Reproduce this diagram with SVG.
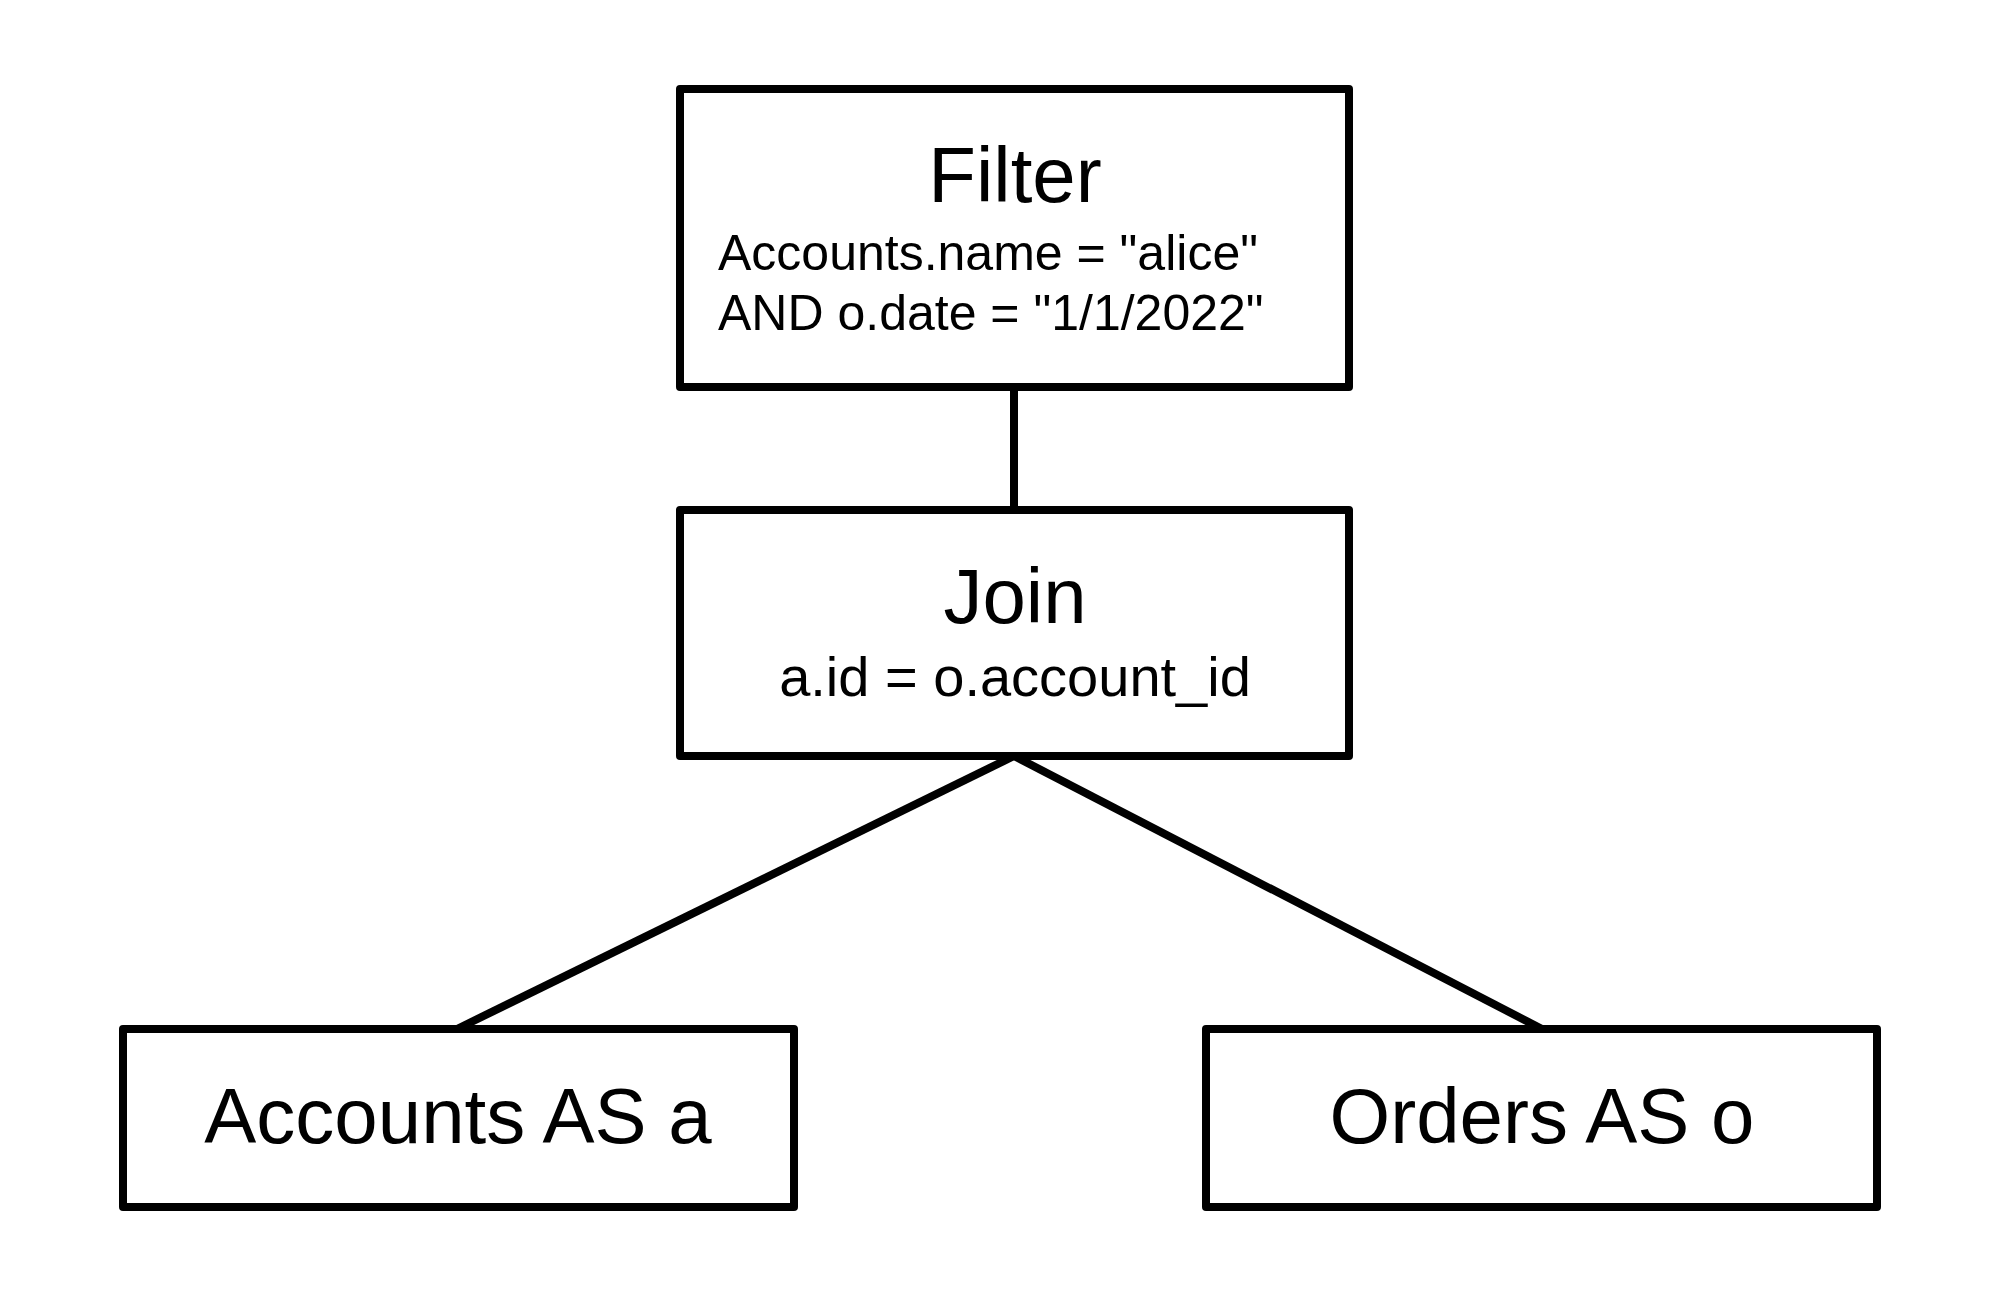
<svg xmlns="http://www.w3.org/2000/svg" width="2000" height="1295" viewBox="0 0 2000 1295">
<style>
.box{fill:#fff;stroke:#000;stroke-width:8;stroke-linejoin:round}
.edge{stroke:#000;stroke-width:8;fill:none}
text{font-family:"Liberation Sans",Arial,sans-serif;fill:#000}
.t{font-size:78px;text-anchor:middle}
.s{font-size:50px}
</style>
<rect width="2000" height="1295" fill="#fff"/>
<g id="connectors">
<line class="edge" x1="1014" y1="387" x2="1014" y2="510"/>
<line class="edge" x1="1014" y1="756" x2="457" y2="1029"/>
<line class="edge" x1="1014" y1="756" x2="1542" y2="1029"/>
</g>
<g id="filter">
<rect class="box" x="680" y="89" width="669" height="298"/>
<text class="t" x="1015" y="202">Filter</text>
<text class="s" x="718" y="270">Accounts.name = "alice"</text>
<text class="s" x="718" y="330">AND o.date = "1/1/2022"</text>
</g>
<g id="join">
<rect class="box" x="680" y="510" width="669" height="246"/>
<text class="t" x="1015" y="623">Join</text>
<text x="1015" y="696" font-size="56" text-anchor="middle">a.id = o.account_id</text>
</g>
<g id="accounts">
<rect class="box" x="123" y="1029" width="671" height="178"/>
<text class="t" x="458" y="1143">Accounts AS a</text>
</g>
<g id="orders">
<rect class="box" x="1206" y="1029" width="671" height="178"/>
<text class="t" x="1542" y="1143">Orders AS o</text>
</g>
</svg>
